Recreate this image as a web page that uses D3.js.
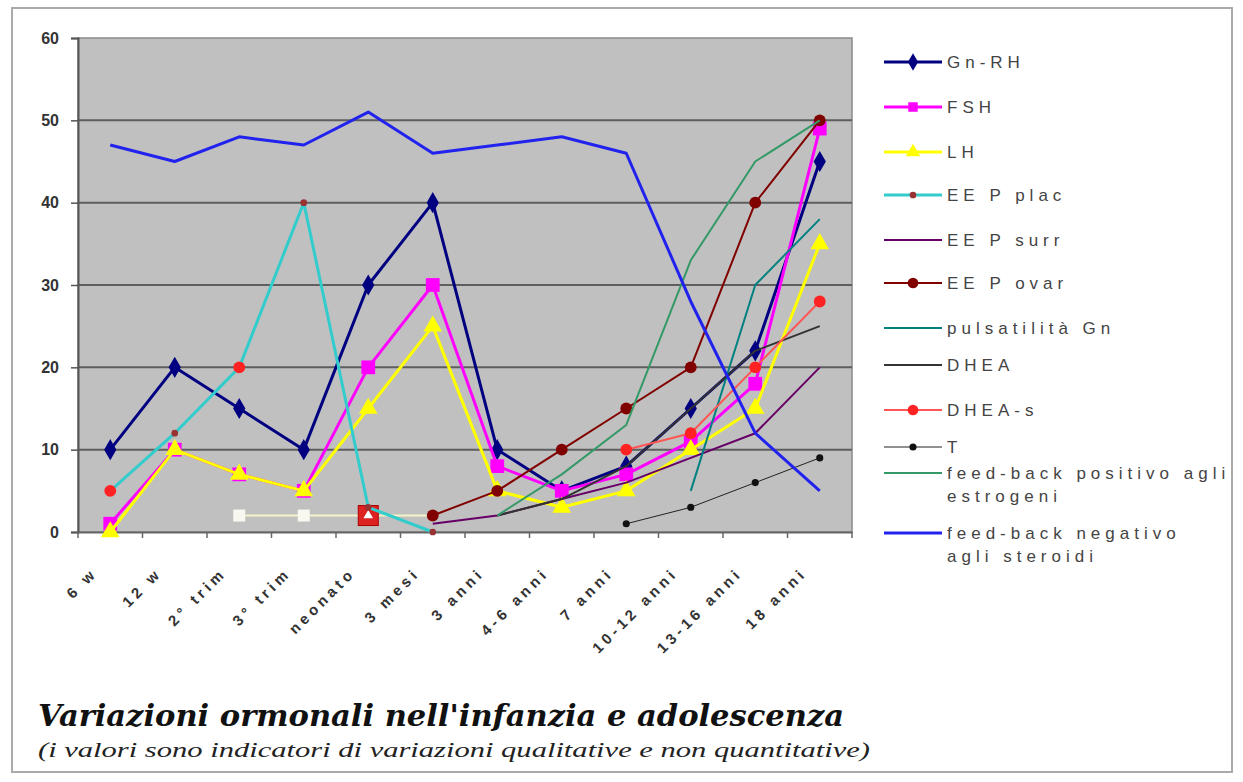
<!DOCTYPE html>
<html>
<head>
<meta charset="utf-8">
<script src="https://cdnjs.cloudflare.com/ajax/libs/d3/7.8.5/d3.min.js"></script>
<style>
  body { margin: 0; background: #fff; }
  svg { display: block; }
</style>
</head>
<body>
<svg></svg>
<script>
const width = 1243;
const height = 782;
const margin = { top: 38, right: 391, bottom: 250, left: 78 };

// categorie (asse x)
const categories = ["6 w", "12 w", "2° trim", "3° trim", "neonato", "3 mesi",
  "3 anni", "4-6 anni", "7 anni", "10-12 anni", "13-16 anni", "18 anni"];
const yTicks = [0, 10, 20, 30, 40, 50, 60];

// valori (null = nessun dato)
const gnrh      = [10, 20, 15, 10, 30, 40, 10, 5, 8, 15, 22, 45];
const fsh       = [1, 10, 7, 5, 20, 30, 8, 5, 7, 11, 18, 49];
const lh        = [0, 10, 7, 5, 15, 25, 5, 3, 5, 10, 15, 35];
const eepPlac   = [5, 12, 20, 40, 3, 0, null, null, null, null, null, null];
const eepSurr   = [null, null, null, null, null, 1, 2, 4, 6, 9, 12, 20];
const eepOvar   = [null, null, null, null, null, 2, 5, 10, 15, 20, 40, 50];
const pulsGn    = [null, null, null, null, null, null, null, null, null, 5, 30, 38];
const dhea      = [null, null, null, null, null, null, 2, 4, 8, 15, 22, 25];
const dheaS     = [5, null, 20, null, null, null, null, null, 10, 12, 20, 28];
const testo     = [null, null, null, null, null, null, null, null, 1, 3, 6, 9];
const fbPos     = [null, null, null, null, null, null, 2, 7, 13, 33, 45, 50];
const fbNeg     = [47, 45, 48, 47, 51, 46, 47, 48, 46, 28, 12, 5];
const paleLine  = [null, null, 2, 2, 2, 2, null, null, null, null, null, null];

const series = [
  { name: "Gn-RH", values: gnrh, color: "#000080", width: 3, symbol: d3.symbolDiamond, size: 130, fill: "#000080" },
  { name: "FSH", values: fsh, color: "#ff00ff", width: 3, symbol: d3.symbolSquare, size: 190, fill: "#ff00ff" },
  { name: "LH", values: lh, color: "#ffff00", width: 3, symbol: d3.symbolTriangle, size: 150, fill: "#ffff00" },
  { name: "EE P plac", values: eepPlac, color: "#33cccc", width: 3, symbol: d3.symbolCircle, size: 35, fill: "#993333" },
  { name: "EE P surr", values: eepSurr, color: "#660066", width: 2, symbol: null },
  { name: "EE P ovar", values: eepOvar, color: "#800000", width: 2, symbol: d3.symbolCircle, size: 110, fill: "#800000" },
  { name: "pulsatilità Gn", values: pulsGn, color: "#008080", width: 2, symbol: null },
  { name: "DHEA", values: dhea, color: "#333333", width: 2, symbol: null },
  { name: "DHEA-s", values: dheaS, color: "#ff5555", width: 2, symbol: d3.symbolCircle, size: 110, fill: "#ff2222" },
  { name: "T", values: testo, color: "#222222", width: 1, symbol: d3.symbolCircle, size: 40, fill: "#111111" },
  { name: "feed-back positivo agli|estrogeni", values: fbPos, color: "#339966", width: 2, symbol: null },
  { name: "feed-back negativo|agli steroidi", values: fbNeg, color: "#2222ee", width: 3, symbol: null }
];

const svg = d3.select("svg")
  .attr("width", width)
  .attr("height", height);

// cornice esterna
svg.append("rect")
  .attr("x", 12).attr("y", 8)
  .attr("width", 1220).attr("height", 764)
  .attr("fill", "none")
  .attr("stroke", "#aaaaaa")
  .attr("stroke-width", 2);

const x = d3.scaleBand()
  .domain(categories)
  .range([margin.left, width - margin.right]);

const y = d3.scaleLinear()
  .domain([0, 60])
  .range([height - margin.bottom, margin.top]);

const cx = c => x(c) + x.bandwidth() / 2;

// area del grafico
svg.append("rect")
  .attr("x", margin.left)
  .attr("y", margin.top)
  .attr("width", x.range()[1] - margin.left)
  .attr("height", y(0) - margin.top)
  .attr("fill", "#c0c0c0")
  .attr("stroke", "#8a8a8a")
  .attr("stroke-width", 1.5);

// griglia
svg.append("g")
  .selectAll("line")
  .data(yTicks.filter(t => t > 0 && t < 60))
  .join("line")
  .attr("x1", margin.left)
  .attr("x2", x.range()[1])
  .attr("y1", d => y(d))
  .attr("y2", d => y(d))
  .attr("stroke", "#5e5e5e")
  .attr("stroke-width", 2);

// Asse Y
const yAxis = svg.append("g")
  .attr("transform", `translate(${margin.left},0)`)
  .call(d3.axisLeft(y).tickValues(yTicks).tickSize(7).tickPadding(12));
yAxis.select(".domain").attr("stroke", "#555").attr("stroke-width", 2);
yAxis.selectAll(".tick line").attr("stroke", "#555").attr("stroke-width", 1.5);
yAxis.selectAll(".tick text")
  .attr("fill", "#333")
  .style("font-family", "Liberation Sans, Arial, sans-serif")
  .style("font-size", "16px")
  .style("font-weight", "bold");

// Asse X
const xAxis = svg.append("g")
  .attr("transform", `translate(0,${y(0)})`)
  .call(d3.axisBottom(x).tickSize(0).tickFormat(""));
xAxis.select(".domain").attr("stroke", "#666").attr("stroke-width", 2);

const bounds = categories.map(c => x(c)).concat([x.range()[1]]);
svg.append("g")
  .selectAll("line")
  .data(bounds)
  .join("line")
  .attr("x1", d => d).attr("x2", d => d)
  .attr("y1", y(0)).attr("y2", y(0) + 6)
  .attr("stroke", "#666")
  .attr("stroke-width", 1.5);

svg.append("g")
  .selectAll("text")
  .data(categories)
  .join("text")
  .attr("transform", d => `translate(${cx(d) - 12},${y(0) + 42}) rotate(-45)`)
  .attr("text-anchor", "end")
  .style("font-family", "Liberation Sans, Arial, sans-serif")
  .style("font-size", "15px")
  .style("font-weight", "bold")
  .style("letter-spacing", "4px")
  .attr("fill", "#333")
  .text(d => d);

// linea chiara (fase fetale)
const line = d3.line()
  .defined(d => d.v != null)
  .x(d => cx(d.c))
  .y(d => y(d.v));

const toPts = vals => categories.map((c, i) => ({ c, v: vals[i] }));

svg.append("path")
  .datum(toPts(paleLine))
  .attr("d", line)
  .attr("fill", "none")
  .attr("stroke", "#f4f4c8")
  .attr("stroke-width", 2);

svg.append("g")
  .selectAll("rect")
  .data(toPts(paleLine).filter(d => d.v != null && d.c !== "3 mesi"))
  .join("rect")
  .attr("x", d => cx(d.c) - (d.c === "neonato" ? 10 : 6))
  .attr("y", d => y(d.v) - (d.c === "neonato" ? 10 : 6))
  .attr("width", d => d.c === "neonato" ? 20 : 12)
  .attr("height", d => d.c === "neonato" ? 20 : 12)
  .attr("fill", d => d.c === "neonato" ? "#dd2222" : "#f8f8f0")
  .attr("stroke", d => d.c === "neonato" ? "#aa0000" : "none");

svg.append("path")
  .attr("d", d3.symbol(d3.symbolTriangle, 40)())
  .attr("transform", `translate(${cx("neonato")},${y(2)})`)
  .attr("fill", "#fff");

// serie
series.forEach(s => {
  const pts = toPts(s.values);
  svg.append("path")
    .datum(pts)
    .attr("d", line)
    .attr("fill", "none")
    .attr("stroke", s.color)
    .attr("stroke-width", s.width)
    .attr("stroke-linejoin", "round");

  if (s.symbol) {
    svg.append("g")
      .selectAll("path")
      .data(pts.filter(d => d.v != null))
      .join("path")
      .attr("d", d3.symbol(s.symbol, s.size))
      .attr("transform", d => `translate(${cx(d.c)},${y(d.v)})`)
      .attr("fill", s.fill);
  }
});

// Legenda
const legendY = [62, 107, 152, 195, 240, 283, 328, 365, 410, 447, 473, 533];
const legend = svg.append("g");
series.forEach((s, i) => {
  const g = legend.append("g").attr("transform", `translate(0,${legendY[i]})`);
  g.append("line")
    .attr("x1", 884).attr("x2", 942)
    .attr("y1", 0).attr("y2", 0)
    .attr("stroke", s.color)
    .attr("stroke-width", s.width);
  if (s.symbol) {
    g.append("path")
      .attr("d", d3.symbol(s.symbol, Math.min(s.size, 90))())
      .attr("transform", "translate(913,0)")
      .attr("fill", s.fill);
  }
  const t = g.append("text")
    .attr("x", 947)
    .attr("y", 6)
    .style("font-family", "Liberation Sans, Arial, sans-serif")
    .style("font-size", "17px")
    .style("letter-spacing", "5px")
    .attr("fill", "#444");
  s.name.split("|").forEach((part, k) => {
    t.append("tspan").attr("x", 947).attr("dy", k === 0 ? 0 : 23).text(part);
  });
});

// Titoli
svg.append("text")
  .attr("x", 38)
  .attr("y", 726)
  .attr("textLength", 806)
  .attr("lengthAdjust", "spacingAndGlyphs")
  .style("font-family", "DejaVu Serif, serif")
  .style("font-size", "30px")
  .style("font-weight", "bold")
  .style("font-style", "italic")
  .attr("fill", "#111")
  .text("Variazioni ormonali nell'infanzia e adolescenza");

svg.append("text")
  .attr("x", 38)
  .attr("y", 757)
  .attr("textLength", 832)
  .attr("lengthAdjust", "spacingAndGlyphs")
  .style("font-family", "Liberation Serif, serif")
  .style("font-size", "20px")
  .style("font-style", "italic")
  .attr("fill", "#222")
  .text("(i valori sono indicatori di variazioni qualitative e non quantitative)");
</script>
</body>
</html>
